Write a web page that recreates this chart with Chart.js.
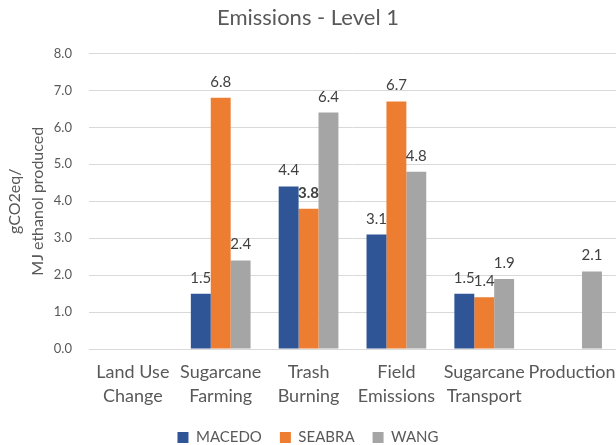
<!DOCTYPE html>
<html>
<head>
<meta charset="utf-8">
<script src="https://cdn.jsdelivr.net/npm/chart.js@4"></script>
<style>
  body { margin: 0; background: #fff; }
  #wrap { width: 616px; height: 445px; position: relative; }
</style>
</head>
<body>
<div id="wrap"><canvas id="myChart"></canvas></div>
<script>
var categorias = [
  ['Land Use', 'Change'],
  ['Sugarcane', 'Farming'],
  ['Trash', 'Burning'],
  ['Field', 'Emissions'],
  ['Sugarcane', 'Transport'],
  'Production'
];
var macedo = [null, 1.5, 4.4, 3.1, 1.5, null];
var seabra = [null, 6.8, 3.8, 6.7, 1.4, null];
var wang = [null, 2.4, 6.4, 4.8, 1.9, 2.1];
var ticksY = [0, 1, 2, 3, 4, 5, 6, 7, 8];

var fonte = 'Lato, "Open Sans", sans-serif';

// rotulos de valor em cima das barras
var rotulos = {
  id: 'rotulos',
  afterDatasetsDraw: function(chart) {
    var ctx = chart.ctx;
    ctx.save();
    ctx.fillStyle = '#404040';
    ctx.textAlign = 'center';
    ctx.textBaseline = 'alphabetic';
    chart.data.datasets.forEach(function(ds, i) {
      var meta = chart.getDatasetMeta(i);
      meta.data.forEach(function(bar, j) {
        var v = ds.data[j];
        if (v === null || v === undefined) return;
        // o 3.8 aparece em negrito no original
        var bold = (i === 1 && j === 2) ? 'bold ' : '';
        ctx.font = bold + '15px ' + fonte;
        ctx.fillText(v.toFixed(1), bar.x, bar.y - 11);
      });
    });
    ctx.restore();
  }
};

function grafico() {
  var ctx = document.getElementById('myChart').getContext('2d');
  var chart = new Chart(ctx, {
    type: 'bar',
    data: {
      labels: categorias,
      datasets: [
        { label: 'MACEDO', data: macedo, backgroundColor: '#2F5597' },
        { label: 'SEABRA', data: seabra, backgroundColor: '#ED7D31' },
        { label: 'WANG', data: wang, backgroundColor: '#A5A5A5' }
      ]
    },
    options: {
      responsive: true,
      maintainAspectRatio: false,
      animation: false,
      layout: { padding: { top: 0, right: 0, bottom: -10, left: 0 } },
      datasets: { bar: { barPercentage: 1, categoryPercentage: 0.68 } },
      plugins: {
        title: {
          display: true,
          text: 'Emissions - Level 1',
          color: '#595959',
          font: { family: fonte, size: 22, weight: 'normal', lineHeight: 1.2 },
          padding: { top: 5, bottom: 22 }
        },
        legend: {
          position: 'bottom',
          labels: {
            color: '#595959',
            font: { family: fonte, size: 15 },
            boxWidth: 11,
            boxHeight: 11,
            padding: 18
          }
        },
        tooltip: { enabled: false }
      },
      scales: {
        x: {
          grid: { drawOnChartArea: false, color: 'rgba(0,0,0,0)', tickLength: 11 },
          border: { display: false },
          ticks: {
            color: '#595959',
            font: { family: fonte, size: 18, lineHeight: 1.33 },
            maxRotation: 0,
            autoSkip: false,
            padding: 0
          },
          afterFit: function(axis) { axis.height += 4; }
        },
        y: {
          min: ticksY[0],
          max: ticksY[ticksY.length - 1],
          afterBuildTicks: function(axis) {
            axis.ticks = ticksY.map(function(v) { return { value: v }; });
          },
          grid: { color: '#D9D9D9', tickColor: 'rgba(0,0,0,0)', tickLength: 16 },
          border: { display: false },
          ticks: {
            color: '#595959',
            font: { family: fonte, size: 13 },
            padding: 1,
            callback: function(v) { return v.toFixed(1); }
          },
          title: {
            display: true,
            text: ['gCO2eq/', 'MJ ethanol produced'],
            color: '#595959',
            font: { family: fonte, size: 16, lineHeight: 1.4 },
            padding: { top: 4, bottom: 4 }
          }
        }
      }
    },
    plugins: [rotulos]
  });
}

grafico();
</script>
</body>
</html>
